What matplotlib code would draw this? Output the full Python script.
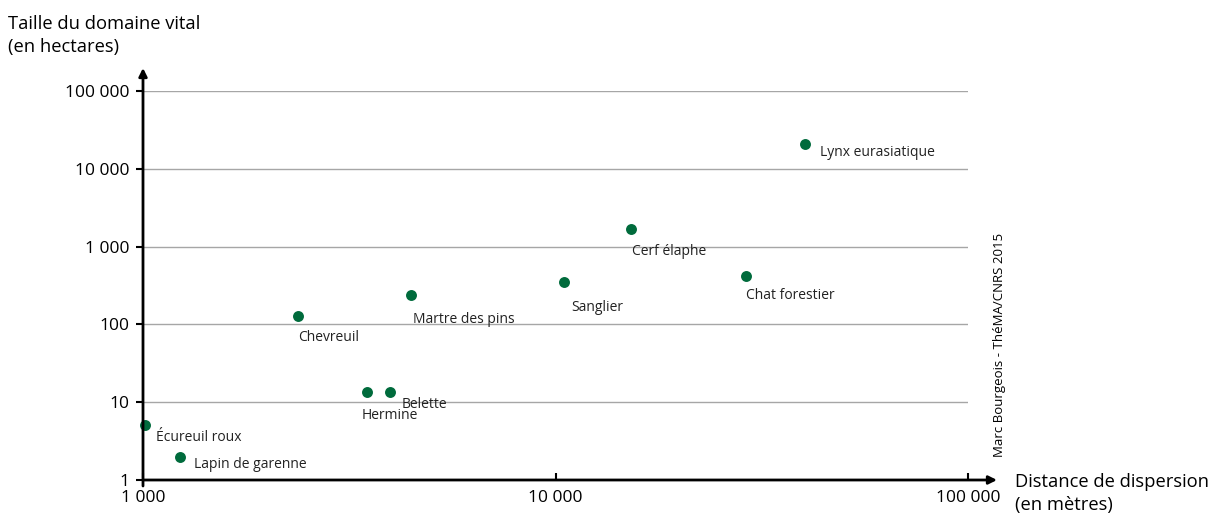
import matplotlib
matplotlib.use("Agg")
import matplotlib.pyplot as plt

plt.rcParams['font.family'] = ['Open Sans', 'DejaVu Sans']

especes = ["Écureuil roux", "Lapin de garenne", "Chevreuil", "Hermine", "Belette",
           "Martre des pins", "Sanglier", "Cerf élaphe", "Chat forestier",
           "Lynx eurasiatique"]
dispersion_m = [1010, 1230, 2380, 3500, 3980, 4470, 10500, 15200, 29000, 40300]
domaine_ha = [5.1, 2.0, 130, 13.5, 13.5, 240, 350, 1680, 420, 20800]
# label offsets in points (dx, dy)
decalages = [(8, -9), (10, -6), (0, -16), (-4, -17), (8, -9),
             (1, -18), (5, -18), (1, -16), (0, -14), (11, -6)]

x_ticks = [1000, 10000, 100000]
x_labels = ["1 000", "10 000", "100 000"]
y_ticks = [1, 10, 100, 1000, 10000, 100000]
y_labels = ["1", "10", "100", "1 000", "10 000", "100 000"]

W, H = 1212, 513
fig = plt.figure(figsize=(W / 100, H / 100), dpi=100)
x0, x1, y0, y1 = 143, 968, 480, 91
ax = fig.add_axes([x0 / W, 1 - y0 / H, (x1 - x0) / W, (y0 - y1) / H])
ax.set_xscale('log')
ax.set_yscale('log')
ax.set_xlim(1000, 100000)
ax.set_ylim(1, 100000)
for s in ax.spines.values():
    s.set_visible(False)

for v in y_ticks[1:]:
    ax.axhline(v, color='#a6a6a6', lw=1, zorder=1)

vert = '#006b3c'
ax.scatter(dispersion_m, domaine_ha, s=62, color=vert, zorder=3, clip_on=False,
           linewidths=0)
for nom, xv, yv, (dx, dy) in zip(especes, dispersion_m, domaine_ha, decalages):
    ax.annotate(nom, (xv, yv), xytext=(dx, dy), textcoords='offset points',
                fontsize=10, color='#222222', ha='left', va='center')

# axes with arrows
ax.annotate('', xy=(1 + 29 / (x1 - x0), 0), xytext=(0, 0), xycoords='axes fraction',
            arrowprops=dict(arrowstyle='-|>', color='black', lw=2,
                            mutation_scale=12, shrinkA=0, shrinkB=0))
ax.annotate('', xy=(0, 1 + 23 / (y0 - y1)), xytext=(0, -6 / (y0 - y1)),
            xycoords='axes fraction',
            arrowprops=dict(arrowstyle='-|>', color='black', lw=2,
                            mutation_scale=12, shrinkA=0, shrinkB=0))

ax.set_xticks(x_ticks)
ax.set_xticklabels(x_labels)
ax.set_yticks(y_ticks)
ax.set_yticklabels(y_labels)
ax.minorticks_off()
ax.tick_params(axis='x', direction='in', length=5, width=1.5, labelsize=12.5, pad=7)
ax.tick_params(axis='y', direction='out', length=5, width=1.5, labelsize=12.5, pad=5)

fig.text(8 / W, 1 - 24 / H, "Taille du domaine vital", fontsize=13.2, va='center')
fig.text(8 / W, 1 - 47 / H, "(en hectares)", fontsize=13.2, va='center')
fig.text(1015 / W, 1 - 482 / H, "Distance de dispersion", fontsize=13.2, va='center')
fig.text(1015 / W, 1 - 505 / H, "(en mètres)", fontsize=13.2, va='center')
fig.text(1000 / W, 1 - 345 / H, "Marc Bourgeois - ThéMA/CNRS 2015", fontsize=9.5,
         rotation=90, ha='center', va='center')

fig.savefig("out.png", dpi=100)
